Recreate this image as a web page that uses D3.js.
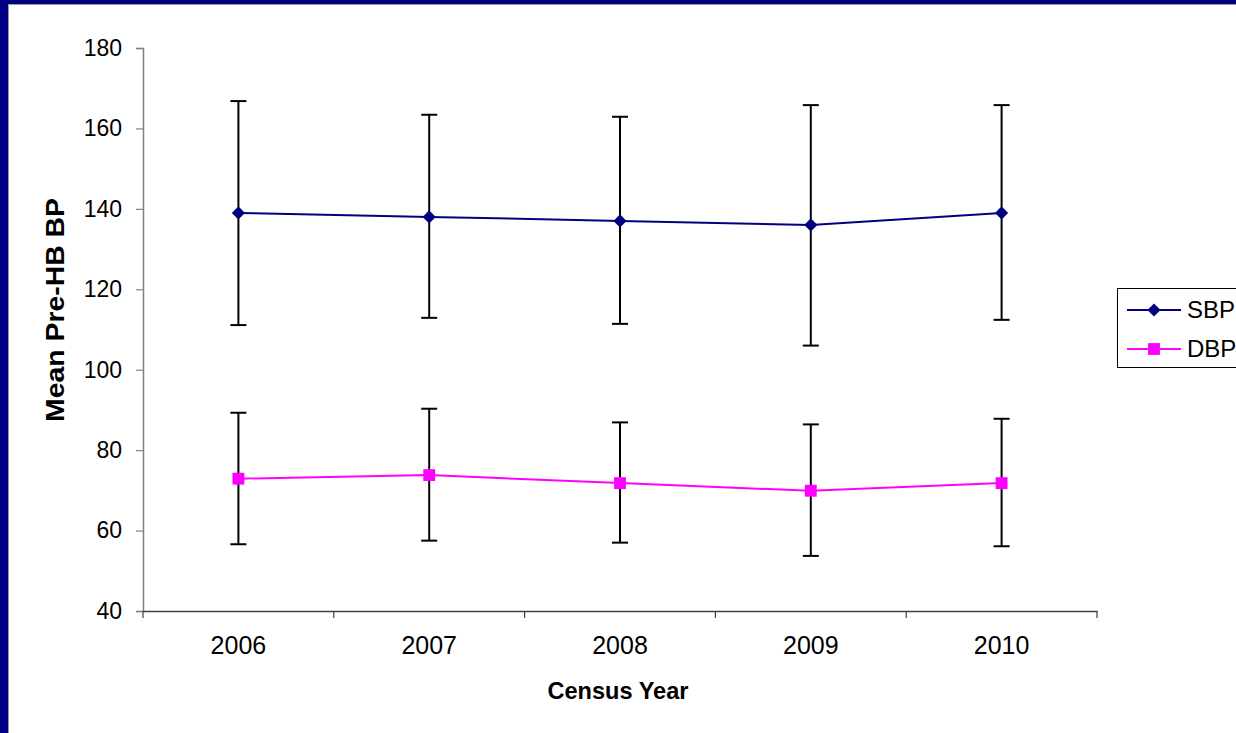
<!DOCTYPE html>
<html><head><meta charset="utf-8">
<script src="https://cdn.jsdelivr.net/npm/d3@7"></script>
<style>html,body{margin:0;padding:0;background:#fff;overflow:hidden}svg{display:block}</style>
</head><body>
<script>
const years = ["2006","2007","2008","2009","2010"];
const sbpMean = [139, 138, 137, 136, 139];
const sbpHigh = [166.8, 163.4, 162.9, 165.8, 165.8];
const sbpLow  = [111.1, 112.9, 111.4, 106.0, 112.4];
const dbpMean = [72.9, 73.8, 71.8, 69.9, 71.8];
const dbpHigh = [89.3, 90.3, 86.9, 86.4, 87.8];
const dbpLow  = [56.6, 57.5, 57.0, 53.7, 56.1];
const yTicks = [40, 60, 80, 100, 120, 140, 160, 180];
const seriesNames = ["SBP", "DBP"];

const W = 1236, H = 733;
const svg = d3.select("body").append("svg").attr("width", W).attr("height", H);
svg.append("rect").attr("width", W).attr("height", H).attr("fill", "#000080");
svg.append("rect").attr("x", 8).attr("y", 4).attr("width", W).attr("height", H).attr("fill", "#9a9a9a");
svg.append("rect").attr("x", 9).attr("y", 5).attr("width", W).attr("height", H).attr("fill", "#fff");

const font = "'Liberation Sans', Arial, sans-serif";
const x = d3.scaleBand().domain(years).range([143, 1097]).padding(0);
const y = d3.scaleLinear().domain([40, 180]).range([611, 48]);
const cx = d => x(d) + x.bandwidth() / 2;

// Y axis
const yAxis = svg.append("g").attr("transform", "translate(143,0)")
  .call(d3.axisLeft(y).tickValues(yTicks).tickSize(7).tickPadding(14));
yAxis.select(".domain").attr("stroke", "#808080").attr("stroke-width", 1.5);
yAxis.selectAll(".tick line").attr("stroke", "#808080").attr("stroke-width", 1.2);
yAxis.selectAll("text").attr("font-family", font).attr("font-size", 23).attr("fill", "#000");

// X axis
const xAxis = svg.append("g").attr("transform", "translate(0,611)")
  .call(d3.axisBottom(x).tickSize(0).tickPadding(25));
xAxis.select(".domain").attr("stroke", "#404040").attr("stroke-width", 1.3);
xAxis.selectAll("text").attr("font-family", font).attr("font-size", 25).attr("fill", "#000");
const bounds = years.map(d => x(d)).concat([x(years[years.length - 1]) + x.bandwidth()]);
svg.append("g").selectAll("line").data(bounds).join("line")
  .attr("x1", d => d).attr("x2", d => d).attr("y1", 611).attr("y2", 618)
  .attr("stroke", "#404040").attr("stroke-width", 1.2);

// Axis titles
svg.append("text").attr("x", 618).attr("y", 699).attr("text-anchor", "middle")
  .attr("font-family", font).attr("font-size", 24).attr("font-weight", "bold")
  .attr("textLength", 141).attr("lengthAdjust", "spacingAndGlyphs").text("Census Year");
svg.append("text").attr("transform", "translate(64,310) rotate(-90)").attr("text-anchor", "middle")
  .attr("font-family", font).attr("font-size", 25).attr("font-weight", "bold")
  .attr("textLength", 224).attr("lengthAdjust", "spacingAndGlyphs").text("Mean Pre-HB BP");

function errBars(high, low) {
  const g = svg.append("g").attr("stroke", "#000").attr("stroke-width", 2);
  years.forEach((yr, i) => {
    g.append("line").attr("x1", cx(yr)).attr("x2", cx(yr)).attr("y1", y(high[i])).attr("y2", y(low[i]));
    [high[i], low[i]].forEach(v => g.append("line")
      .attr("x1", cx(yr) - 8).attr("x2", cx(yr) + 8).attr("y1", y(v)).attr("y2", y(v)));
  });
}
errBars(sbpHigh, sbpLow);
errBars(dbpHigh, dbpLow);

const line = d3.line().x((d, i) => cx(years[i])).y(d => y(d));
svg.append("path").datum(sbpMean).attr("d", line).attr("fill", "none").attr("stroke", "#000080").attr("stroke-width", 2);
svg.append("path").datum(dbpMean).attr("d", line).attr("fill", "none").attr("stroke", "#ff00ff").attr("stroke-width", 2);

const diamond = d3.symbol().type(d3.symbolDiamond2).size(110);
const square = d3.symbol().type(d3.symbolSquare).size(140);
svg.append("g").selectAll("path").data(sbpMean).join("path")
  .attr("d", diamond).attr("transform", (d, i) => `translate(${cx(years[i])},${y(d)})`).attr("fill", "#000080");
svg.append("g").selectAll("path").data(dbpMean).join("path")
  .attr("d", square).attr("transform", (d, i) => `translate(${cx(years[i])},${y(d)})`).attr("fill", "#ff00ff");

// Legend
const lg = svg.append("g");
lg.append("rect").attr("x", 1117.5).attr("y", 288.5).attr("width", 140).attr("height", 79)
  .attr("fill", "#fff").attr("stroke", "#000").attr("stroke-width", 1);
const colors = ["#000080", "#ff00ff"];
const syms = [diamond, square];
seriesNames.forEach((s, i) => {
  const ly = 310 + i * 39;
  lg.append("line").attr("x1", 1127).attr("x2", 1181).attr("y1", ly).attr("y2", ly)
    .attr("stroke", colors[i]).attr("stroke-width", 2);
  lg.append("path").attr("d", syms[i]).attr("transform", `translate(1154,${ly})`).attr("fill", colors[i]);
  lg.append("text").attr("x", 1187).attr("y", ly + 8).attr("font-family", font).attr("font-size", 24).text(s);
});
</script>
</body></html>
